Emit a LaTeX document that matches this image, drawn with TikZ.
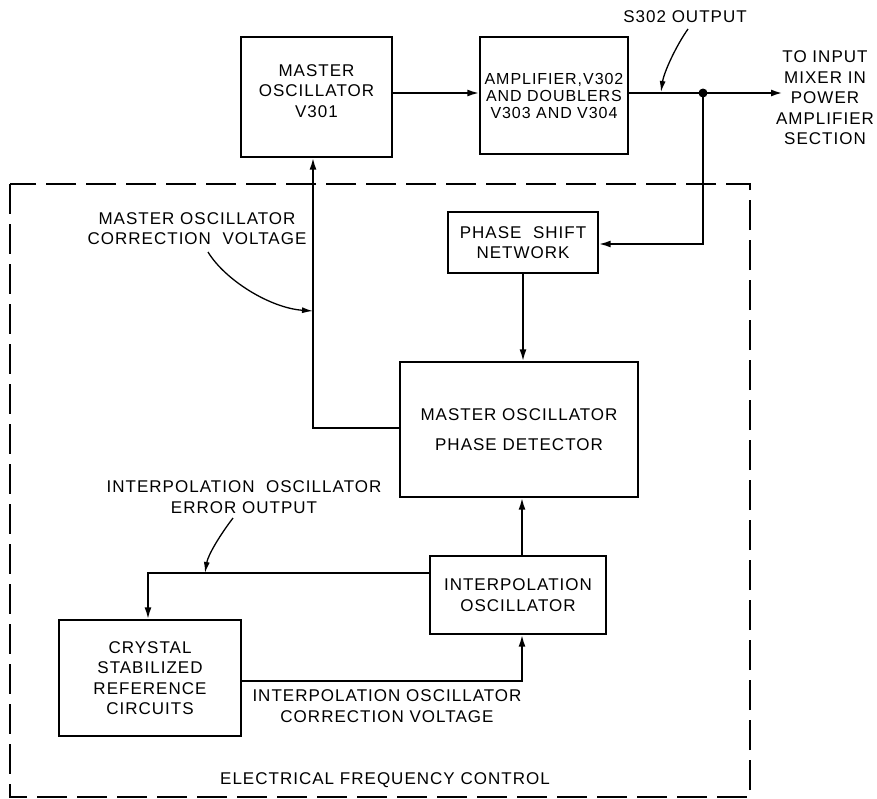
\documentclass[tikz,border=0pt]{standalone}
\usepackage{fontspec}
\setmainfont{Liberation Sans}[LetterSpace=6]
\usetikzlibrary{arrows.meta,calc}
\begin{document}
\begin{tikzpicture}[x=1pt,y=-1pt,
  lbl/.style={font=\fontsize{17}{20.5}\selectfont, align=center, inner sep=0pt},
  blk/.style={draw, line width=1.4pt, lbl, anchor=center},
  conn/.style={line width=1.9pt},
  arr/.style={conn, -{Latex[length=12pt,width=7pt]}},
  pointer/.style={line width=1.3pt, -{Latex[length=11pt,width=6pt]}},
]
\useasboundingbox (0,0) rectangle (877,798);

% blocks
\node[blk, minimum width=151pt, minimum height=120pt] (mo) at (316.5,97)
  {MASTER\\OSCILLATOR\\V301\rule[-12pt]{0pt}{0pt}};
\node[blk, minimum width=148pt, minimum height=117pt,
      font=\fontsize{16}{17}\selectfont] (amp) at (554,95.5)
  {AMPLIFIER,V302\\AND DOUBLERS\\V303 AND V304};
\node[blk, minimum width=150pt, minimum height=61pt] (ps) at (523,242.5)
  {PHASE~~SHIFT\\NETWORK};
\node[blk, minimum width=238pt, minimum height=135pt] (pd) at (519,429.5)
  {MASTER OSCILLATOR\\[9.5pt]PHASE DETECTOR};
\node[blk, minimum width=176pt, minimum height=78pt] (io) at (518,595)
  {INTERPOLATION\\OSCILLATOR};
\node[blk, minimum width=182pt, minimum height=116pt] (cr) at (150,678)
  {CRYSTAL\\STABILIZED\\REFERENCE\\CIRCUITS};

% dashed enclosure
\draw[line width=1.6pt, dash pattern=on 30pt off 10pt] (10,184) rectangle (750,797);

% connectors
\coordinate (j) at (703,93);
\coordinate (toin) at (783,93);
\draw[arr] (mo.east |- j) -- (amp.west |- j);
\draw[conn, line width=2.3pt] (amp.east |- j) -- (j);
\draw[arr, line width=2.3pt] (j) -- (toin);
\fill (j) circle (4.5pt);
\coordinate (psr) at (703,244);
\draw[arr] (j) -- (psr) -- (ps.east |- psr);
\draw[arr] (ps.south) -- (ps.south |- pd.north);
\coordinate (fb) at (313,428);
\draw[arr] (pd.west |- fb) -- (fb) -- (fb |- mo.south);
\coordinate (vx) at (522,0);
\draw[arr] (io.north -| vx) -- (pd.south -| vx);
\coordinate (err) at (148,573);
\draw[arr] (io.west |- err) -- (err) -- (err |- cr.north);
\coordinate (cor) at (522,681);
\draw[arr] (cr.east |- cor) -- (cor) -- (cor |- io.south);

% labels
\node[lbl] (s302) at (685,17) {S302 OUTPUT};
\node[lbl] (toinput) at (825,98) {TO INPUT\\MIXER IN\\POWER\\AMPLIFIER\\SECTION};
\node[lbl] (mocv) at (197,228.5) {MASTER OSCILLATOR\\CORRECTION~~VOLTAGE};
\node[lbl] (ioeo) at (244,497) {INTERPOLATION~~OSCILLATOR\\ERROR OUTPUT};
\node[lbl] (iocv) at (387,706) {INTERPOLATION OSCILLATOR\\CORRECTION VOLTAGE};
\node[lbl] (efc) at (385,780) {ELECTRICAL FREQUENCY CONTROL};

% pointer arrows
\coordinate (p1s) at (688,29); \coordinate (p1e) at (661,92);
\draw[pointer] (p1s) .. controls (676,46) and (664,72) .. (p1e);
\coordinate (p2s) at (208,252); \coordinate (p2e) at (313,311);
\draw[pointer] (p2s) .. controls (225,280) and (270,308) .. (p2e);
\coordinate (p3s) at (233,518); \coordinate (p3e) at (205,573);
\draw[pointer] (p3s) .. controls (220,535) and (208,555) .. (p3e);
\end{tikzpicture}
\end{document}
